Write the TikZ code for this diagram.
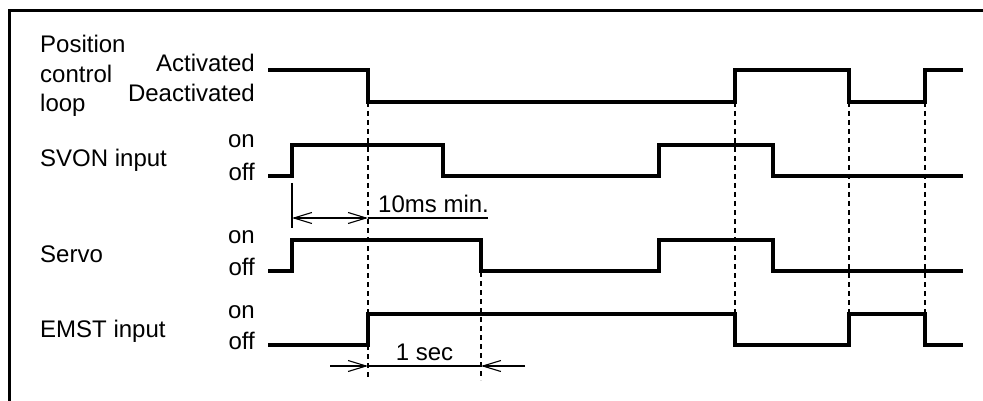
\documentclass[tikz,border=0pt]{standalone}
\usepackage{fontspec}
\setmainfont{Liberation Sans}
\usetikzlibrary{arrows.meta}
\begin{document}
\begin{tikzpicture}[x=1pt,y=-1pt,
  sig/.style={line width=3.2pt,line join=miter},
  frame/.style={line width=3pt},
  guide/.style={line width=1.4pt,dash pattern=on 5pt off 4pt},
  dim/.style={line width=1.1pt},
  tip/.style={-{Straight Barb[length=18pt,width=11pt,line width=1.1pt]}},
  lbl/.style={font=\fontsize{24}{29.5}\selectfont,inner sep=0pt},
  lvl/.style={lbl,anchor=base east},
  sname/.style={lbl,anchor=base west,align=left}]
\useasboundingbox (0,0) rectangle (983,401);
\fill[white] (0,0) rectangle (983,401);
% frame
\draw[frame] (9,401) -- (9,11) -- (983,11);
% labels
\node[sname] (pcl) at (40,53) {Position};
\node[sname] (pcl2) at (40,82.5) {control};
\node[sname] (pcl3) at (40,112) {loop};
\node[lvl] (act) at (255,72) {Activated};
\node[lvl] (deact) at (255,102) {Deactivated};
\node[sname] (svon) at (40,167) {SVON input};
\node[lvl] (svonon) at (255,148) {on};
\node[lvl] (svonoff) at (255,180) {off};
\node[sname] (servo) at (40,262) {Servo};
\node[lvl] (servoon) at (255,243) {on};
\node[lvl] (servooff) at (255,275) {off};
\node[sname] (emst) at (40,337) {EMST input};
\node[lvl] (emston) at (255,318) {on};
\node[lvl] (emstoff) at (255,349) {off};
% dashed guides
\draw[guide] (368,102) -- (368,380);
\draw[guide] (481,272) -- (481,380);
\draw[guide] (735,102) -- (735,314);
\draw[guide] (849,102) -- (849,314);
\draw[guide] (925,102) -- (925,314);
% waveforms
\draw[sig] (268,70) -- (368,70) -- (368,102) -- (735,102) -- (735,70) -- (849,70) -- (849,102) -- (925,102) -- (925,70) -- (963,70);
\draw[sig] (268,176) -- (292,176) -- (292,145) -- (443,145) -- (443,176) -- (659,176) -- (659,145) -- (773,145) -- (773,176) -- (963,176);
\draw[sig] (268,271) -- (292,271) -- (292,240) -- (481,240) -- (481,271) -- (659,271) -- (659,240) -- (773,240) -- (773,271) -- (963,271);
\draw[sig] (268,345) -- (368,345) -- (368,314) -- (735,314) -- (735,345) -- (849,345) -- (849,314) -- (925,314) -- (925,345) -- (963,345);
% 10ms min dimension
\draw[dim] (292,183) -- (292,228);
\coordinate (ta) at (292,218);
\coordinate (tb) at (368,218);
\coordinate (tc) at (488,218);
\draw[dim,{Straight Barb[length=18pt,width=11pt,line width=1.1pt]}-{Straight Barb[length=18pt,width=11pt,line width=1.1pt]}] (ta) -- (tb);
\draw[dim] (tb) -- (tc);
\node[lbl,anchor=base west] (tenms) at (378,212) {10ms min.};
% 1 sec dimension
\coordinate (sa) at (330,366);
\coordinate (sb) at (368,366);
\coordinate (sc) at (481,366);
\coordinate (sd) at (525,366);
\draw[dim,tip] (sa) -- (sb);
\draw[dim,tip] (sd) -- (sc);
\draw[dim] (sb) -- (sc);
\node[lbl,anchor=base] (onesec) at (424.5,360) {1 sec};
\end{tikzpicture}
\end{document}
